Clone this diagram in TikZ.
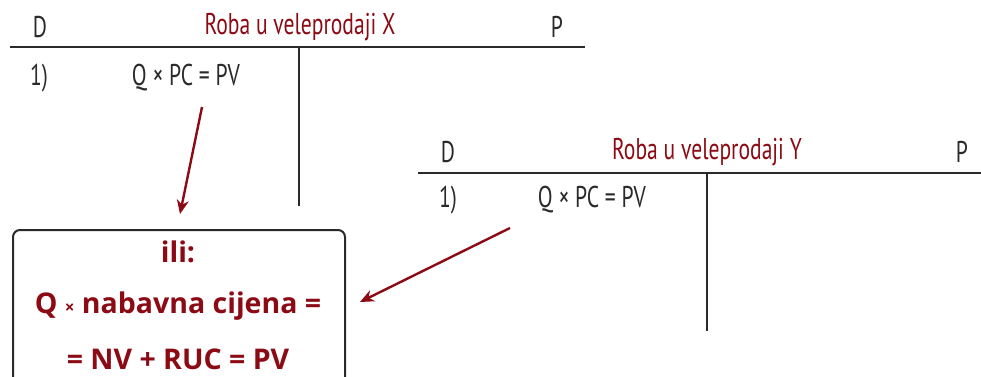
\documentclass[tikz,border=0pt]{standalone}
\usepackage{fontspec}
\setmainfont{PT Sans}
\newfontfamily\narrowfont[FakeStretch=0.72]{PT Sans}
\newfontfamily\boxfont{Open Sans}
\usetikzlibrary{arrows.meta,positioning}
\definecolor{kontored}{HTML}{8B0A14}
\definecolor{kontoline}{HTML}{2A2A2A}

\begin{document}
\begin{tikzpicture}[
    x=1pt, y=-1pt,
    hdr/.style={inner sep=0pt, font=\narrowfont\fontsize{30}{34}\selectfont, text=kontoline},
    title/.style={hdr, text=kontored},
    boxline/.style={inner sep=0pt, font=\boxfont\bfseries\fontsize{28.5}{32}\selectfont, text=kontored},
    tline/.style={draw=kontoline, line width=2pt},
    okvir/.style={draw=kontoline, line width=2pt, rounded corners=7pt, minimum width=332pt, minimum height=170pt, anchor=north west},
    arrow/.style={-{Stealth[length=14pt, width=12pt]}, draw=kontored, line width=2.4pt}
  ]
    \useasboundingbox (0,0) rectangle (981,376);
    \clip (0,0) rectangle (981,376);

    % konto X
    \node[hdr] (dX) at (40,27) {D};
    \node[title] (tX) at (300,27) {Roba u veleprodaji X};
    \node[hdr] (pX) at (557,27) {P};
    \draw[tline] (10,47) -- (585,47);
    \draw[tline] (299,47) -- (299,206);
    \node[hdr] (nX) at (39,78) {1)};
    \node[hdr] (eX) at (186,78) {Q × PC = PV};

    % konto Y
    \node[hdr] (dY) at (448,152) {D};
    \node[title] (tY) at (707,152) {Roba u veleprodaji Y};
    \node[hdr] (pY) at (962,152) {P};
    \draw[tline] (418,173) -- (981,173);
    \draw[tline] (707,173) -- (707,331);
    \node[hdr] (nY) at (448,200) {1)};
    \node[hdr] (eY) at (592,200) {Q × PC = PV};

    % okvir
    \node[okvir] (box) at (12,229) {};
    \node[boxline] (ili) at (178,252) {ili:};
    \node[boxline] (nab) at (178,306) {Q {\fontsize{17}{20}\selectfont×} nabavna cijena =};
    \node[boxline] (ruc) at (178,359) {= NV + RUC = PV};

    % strelice
    \coordinate (fromX) at (202,107);
    \coordinate (toX) at (180,214);
    \coordinate (fromY) at (510,228);
    \coordinate (toY) at (360,302);
    \draw[arrow] (fromX) -- (toX);
    \draw[arrow] (fromY) -- (toY);
  \end{tikzpicture}
\end{document}
